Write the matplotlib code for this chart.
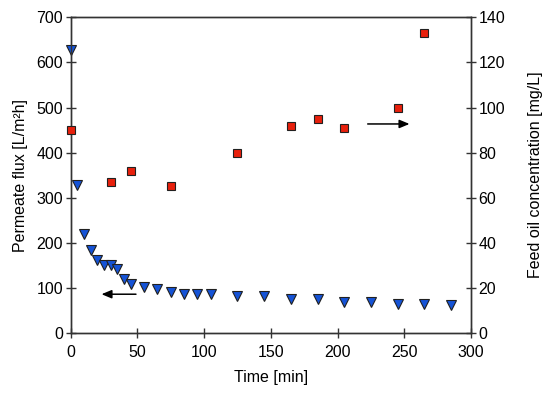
import matplotlib
matplotlib.use("Agg")
import matplotlib.pyplot as plt

plt.rcParams["font.family"] = ["Liberation Sans", "DejaVu Sans"]
plt.rcParams["font.size"] = 11.5

# permeate flux (left axis)
flux_time = [0, 5, 10, 15, 20, 25, 30, 35, 40, 45, 55, 65, 75, 85, 95, 105,
             125, 145, 165, 185, 205, 225, 245, 265, 285]
flux = [628, 328, 220, 183, 162, 151, 150, 141, 119, 108, 103, 97, 91, 87, 87, 87,
        81, 81, 75, 75, 69, 69, 65, 64, 63]

# feed oil concentration (right axis)
oil_time = [0, 30, 45, 75, 125, 165, 185, 205, 245, 265]
oil_conc = [90, 67, 72, 65, 80, 92, 95, 91, 100, 133]

fig = plt.figure(figsize=(5.5, 3.96), dpi=100)
ax = fig.add_axes([70.7 / 550, 1 - 333 / 396, 400.3 / 550, 315.7 / 396])
ax2 = ax.twinx()

ax.plot(flux_time, flux, linestyle="none", marker="v", markersize=6.5,
        markerfacecolor="#1553d6", markeredgecolor="#202020", markeredgewidth=0.8,
        zorder=3, clip_on=False)
ax2.plot(oil_time, oil_conc, linestyle="none", marker="s", markersize=5.8,
         markerfacecolor="#e8200c", markeredgecolor="#202020", markeredgewidth=0.8,
         zorder=3, clip_on=False)

ax.set_xlim(0, 300)
ax.set_ylim(0, 700)
ax2.set_ylim(0, 140)
ax.set_xticks(range(0, 301, 50))
ax.set_yticks(range(0, 701, 100))
ax2.set_yticks(range(0, 141, 20))

ax.set_xlabel("Time [min]", labelpad=7)
ax.set_ylabel("Permeate flux [L/m\u00b2h]", labelpad=6)
ax2.set_ylabel("Feed oil concentration [mg/L]", labelpad=16)

for a in (ax, ax2):
    for s in a.spines.values():
        s.set_color("#333333")
        s.set_linewidth(1.0)
ax.tick_params(direction="inout", length=7, width=1, color="#333333", pad=2)
ax.tick_params(axis="x", pad=5)
ax2.tick_params(direction="inout", length=7, width=1, color="#333333", pad=2)

ax.annotate("", xy=(21, 86), xytext=(51, 86),
            arrowprops=dict(arrowstyle="-|>,head_width=0.25,head_length=0.6",
                            color="black", lw=1.1, mutation_scale=10))
ax2.annotate("", xy=(256, 92.7), xytext=(220.5, 92.7),
             arrowprops=dict(arrowstyle="-|>,head_width=0.25,head_length=0.6",
                             color="black", lw=1.1, mutation_scale=10))

fig.savefig("out.png", dpi=100)
